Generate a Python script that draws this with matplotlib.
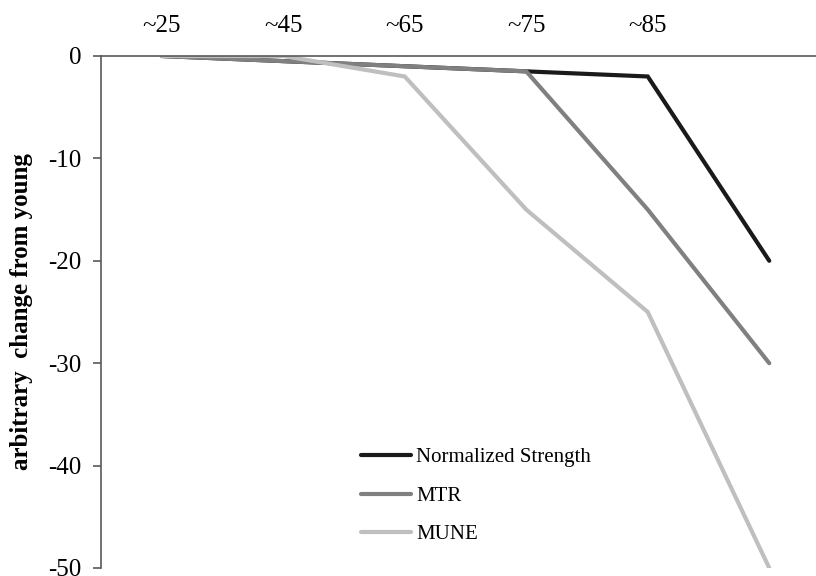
import matplotlib
matplotlib.use("Agg")
import matplotlib.pyplot as plt

plt.rcParams.update({"font.family": ["Liberation Serif", "DejaVu Serif"],
                     "axes.unicode_minus": False})

# data
age_labels = ["~25", "~45", "~65", "~75", "~85", ""]
strength = [0, -0.5, -1.0, -1.5, -2.0, -20]
mtr = [0, -0.5, -1.0, -1.5, -15, -30]
mune = [0, 0, -2.0, -15, -25, -50]

series = [
    ("Normalized Strength", strength, "#1a1a1a"),
    ("MTR", mtr, "#808080"),
    ("MUNE", mune, "#bfbfbf"),
]

fig = plt.figure(figsize=(8.16, 5.76), dpi=100)
ax = fig.add_axes([101 / 816, 8 / 576, 729 / 816, 512 / 576])

x = list(range(len(age_labels)))
for name, vals, col in series:
    ax.plot(x, vals, color=col, lw=3, label=name, solid_capstyle="round", solid_joinstyle="miter")

ax.set_xlim(-0.5, len(age_labels) - 0.5)
ax.set_ylim(-50, 0)
ax.set_yticks(range(-50, 1, 10))
ax.set_xticks(x)
ax.set_xticklabels(age_labels)

ax.xaxis.tick_top()
ax.tick_params(axis="x", length=0, pad=14, labelsize=18)
ax.tick_params(axis="y", direction="out", length=6, width=1.2, color="#595959", pad=8, labelsize=18)

for s in ["bottom", "right"]:
    ax.spines[s].set_visible(False)
for s in ["top", "left"]:
    ax.spines[s].set_color("#595959")
    ax.spines[s].set_linewidth(1.2)

ax.set_ylabel("arbitrary  change from young", fontsize=18, fontweight="bold")
ax.yaxis.set_label_coords(-0.093, 0.5)

ax.legend(loc="center left", bbox_to_anchor=(361 / 816, 1 - 496 / 576), bbox_transform=fig.transFigure,
          frameon=False, fontsize=15, handlelength=2.4, handletextpad=0.25, labelspacing=0.9,
          borderpad=0, borderaxespad=0)

fig.savefig("out.png", dpi=100)
